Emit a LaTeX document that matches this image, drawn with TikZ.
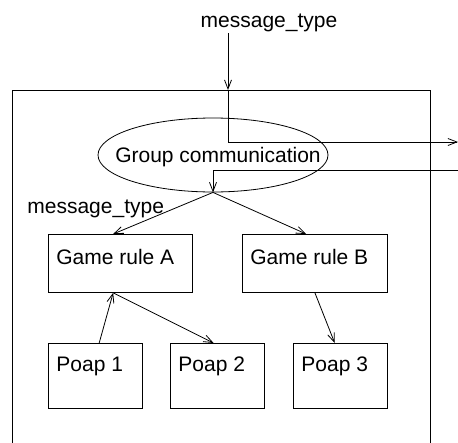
\documentclass[tikz,border=0pt]{standalone}
\usepackage{fontspec}
\setmainfont{Liberation Sans}
\usetikzlibrary{arrows.meta,shapes.geometric,calc}
\begin{document}
\begin{tikzpicture}[x=1pt,y=-1pt,
  line width=0.8pt,
  arr/.style={-{Straight Barb[length=9pt,width=7pt,line width=0.8pt]}},
  box/.style={draw,rectangle,inner sep=0pt,anchor=north west,minimum height=58pt},
  pbox/.style={draw,rectangle,inner sep=0pt,anchor=north west,minimum width=94pt,minimum height=65pt},
  txt/.style={inner sep=0pt,anchor=base west,font=\fontsize{21}{25}\selectfont},
]
\useasboundingbox (0,0) rectangle (458,442);
\clip (0,0) rectangle (458,442);
% frame
\node[draw,rectangle,inner sep=0pt,anchor=north west,minimum width=418pt,minimum height=400pt] (frame) at (12,90) {};
% labels
\node[txt,anchor=base] (msgtop) at (269,27) {message\_type};
\node[txt] (msgleft) at (27,213) {message\_type};
% ellipse
\node[draw,ellipse,inner sep=0pt,minimum width=230pt,minimum height=74pt] (gc) at (213,155) {};
\node[txt,anchor=base] (gct) at (218,162.5) {Group communication};
% boxes
\node[box,minimum width=144pt] (ruleA) at (48,234) {};
\node[box,minimum width=145pt] (ruleB) at (242,234) {};
\node[txt] (ruleAt) at ($(ruleA.north west)+(8,30.5)$) {Game rule A};
\node[txt] (ruleBt) at ($(ruleB.north west)+(8,30.5)$) {Game rule B};
\node[pbox] (p1) at (48,343) {};
\node[pbox] (p2) at (170,343) {};
\node[pbox] (p3) at (293,343) {};
\node[txt] (p1t) at ($(p1.north west)+(8,28.5)$) {Poap 1};
\node[txt] (p2t) at ($(p2.north west)+(8,28.5)$) {Poap 2};
\node[txt] (p3t) at ($(p3.north west)+(8,28.5)$) {Poap 3};
% coordinates
\coordinate (in1) at (228,33);
\coordinate (out1) at (458,142);
\coordinate (in2) at (460,170);
% connectors
\draw[arr] (in1) -- (in1 |- frame.north);
\draw[arr] (in1 |- frame.north) -- (in1 |- out1) -- (out1);
\draw[arr] (in2) -- (in2 -| gc.south) -- (gc.south);
\draw[arr] (gc.south) -- ($(ruleA.north west)!0.45!(ruleA.north east)$);
\draw[arr] (gc.south) -- ($(ruleB.north west)!0.44!(ruleB.north east)$);
\draw[arr] ($(p1.north west)!0.54!(p1.north east)$) -- ($(ruleA.south west)!0.45!(ruleA.south east)$);
\draw[arr] ($(ruleA.south west)!0.45!(ruleA.south east)$) -- ($(p2.north west)!0.46!(p2.north east)$);
\draw[arr] (ruleB.south) -- ($(p3.north west)!0.44!(p3.north east)$);
\end{tikzpicture}
\end{document}
